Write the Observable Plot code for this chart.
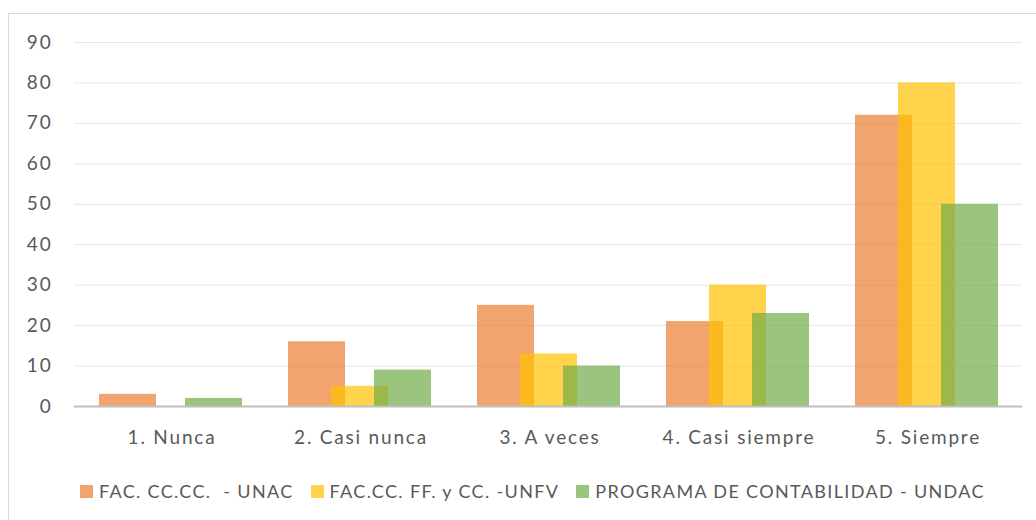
<!DOCTYPE html>
<html>
<head>
<meta charset="utf-8">
<script src="https://cdn.jsdelivr.net/npm/d3@7"></script>
<script src="https://cdn.jsdelivr.net/npm/@observablehq/plot@0.6"></script>
<style>
  html, body { margin: 0; padding: 0; background: #ffffff; overflow: hidden; }
  #frame { position: absolute; left: 8px; top: 13px; width: 1100px; height: 600px; border: 1px solid #d9d9d9; box-sizing: border-box; }
  #chart { position: absolute; left: 0; top: 0; }
  #legend { position: absolute; left: 80px; top: 480px; display: flex; align-items: center; font-family: Lato, sans-serif; font-size: 18px; letter-spacing: 1.35px; color: #595959; white-space: pre; }
  .item { display: flex; align-items: center; margin-right: 17px; }
  .sw { width: 13px; height: 13px; margin-right: 6px; }
</style>
</head>
<body>
<div id="frame"></div>
<div id="chart"></div>
<div id="legend"></div>
<script>
const categories = ["1. Nunca", "2. Casi nunca", "3. A veces", "4. Casi siempre", "5. Siempre"];
const seriesNames = ["FAC. CC.CC.  - UNAC", "FAC.CC. FF. y CC. -UNFV", "PROGRAMA DE CONTABILIDAD - UNDAC"];
const unac = [3, 16, 25, 21, 72];
const unfv = [0, 5, 13, 30, 80];
const undac = [2, 9, 10, 23, 50];
const colors = ["#ED7D31", "#FFC000", "#70AD47"];
const yTicks = [0, 10, 20, 30, 40, 50, 60, 70, 80, 90];

const seriesValues = [unac, unfv, undac];
const offsets = [-43, 0, 43];

const barMarks = seriesValues.map((vals, i) =>
  Plot.barY(categories.map((c, j) => ({cat: c, value: vals[j]})), {
    x: "cat", y: "value", fill: colors[i], fillOpacity: 0.7,
    dx: offsets[i], insetLeft: 66, insetRight: 66
  })
);

const plot = Plot.plot({
  width: 1036,
  height: 450,
  marginTop: 42,
  marginBottom: 44,
  marginLeft: 74,
  marginRight: 14,
  style: {fontFamily: "Lato, sans-serif", fontSize: "19px", letterSpacing: "1.8px", color: "#595959", background: "transparent", overflow: "visible"},
  x: {domain: categories, padding: 0, label: null},
  y: {domain: [0, 90], label: null},
  marks: [
    Plot.gridY(yTicks, {stroke: "#e6e6e6", strokeOpacity: 1, strokeWidth: 1}),
    ...barMarks,
    Plot.ruleY([0], {stroke: "#bfbfbf", strokeWidth: 2}),
    Plot.axisY(yTicks, {tickSize: 0, tickPadding: 22, label: null, fill: "#595959"}),
    Plot.axisX({tickSize: 0, tickPadding: 24, label: null, fill: "#595959", dx: 1})
  ]
});
document.getElementById("chart").appendChild(plot);

const legend = document.getElementById("legend");
seriesNames.forEach((name, i) => {
  const item = document.createElement("div");
  item.className = "item";
  const sw = document.createElement("div");
  sw.className = "sw";
  sw.style.background = colors[i];
  sw.style.opacity = 0.7;
  const t = document.createElement("span");
  t.textContent = name;
  item.appendChild(sw);
  item.appendChild(t);
  legend.appendChild(item);
});
</script>
</body>
</html>
